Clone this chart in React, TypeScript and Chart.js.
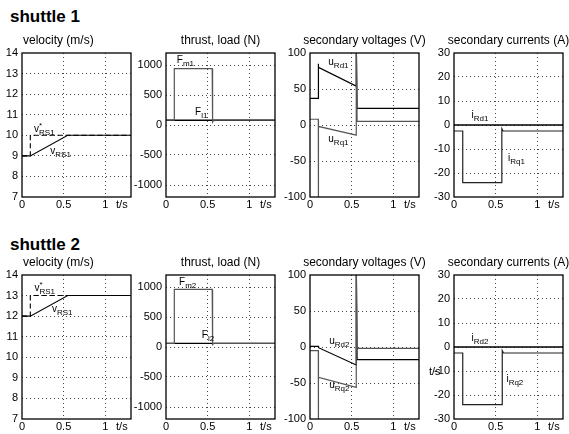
import React, { useEffect, useRef } from "react";
import { Chart, registerables } from "chart.js";
Chart.register(...registerables);

const FONT = "'Liberation Sans', Arial, Helvetica, sans-serif";

// ---------- axis data ----------
const T_MAX = 1.31;
const xTickValues = [0, 0.5, 1, 1.2];
const xGridValues = [0.5, 1];
const T_LABEL_POS = 1.2;

const velTicks1 = [7, 8, 9, 10, 11, 12, 13, 14];
const velTicks2 = [7, 8, 9, 10, 11, 12, 13, 14];
const thrustTicks = [-1000, -500, 0, 500, 1000];
const voltTicks = [-100, -50, 0, 50, 100];
const currTicks = [-30, -20, -10, 0, 10, 20, 30];

// ---------- shuttle 1 ----------
const vRef1T = [0, 0.1, 0.1, 1.31];
const vRef1V = [9, 9, 10, 10];
const vAct1T = [0, 0.1, 0.55, 1.31];
const vAct1V = [9, 9, 10, 10];

const fm1T = [0, 0.1, 0.1, 0.555, 0.56, 0.575, 1.31];
const fm1V = [80, 80, 940, 940, 50, 80, 80];
const fl1T = [0, 1.31];
const fl1V = [80, 80];

const uRd1T = [0, 0.1, 0.1, 0.101, 0.103, 0.555, 0.556, 0.566, 1.31];
const uRd1V = [37, 37, 85, 66, 80, 54, 120, 23, 23];
const uRq1T = [0, 0.1, 0.1, 0.103, 0.555, 0.556, 0.566, 1.31];
const uRq1V = [8, 8, -120, -2, -14, 120, 5, 5];

const iRd1T = [0, 1.31];
const iRd1V = [0, 0];
const iRq1T = [0, 0.105, 0.105, 0.575, 0.575, 0.59, 1.31];
const iRq1V = [-2.5, -2.5, -24, -24, -1.5, -2.5, -2.5];

// ---------- shuttle 2 ----------
const vRef2T = [0, 0.1, 0.1, 1.31];
const vRef2V = [12, 12, 13, 13];
const vAct2T = [0, 0.1, 0.55, 1.31];
const vAct2V = [12, 12, 13, 13];

const fm2T = [0, 0.1, 0.1, 0.555, 0.56, 0.575, 1.31];
const fm2V = [60, 60, 960, 960, 40, 60, 60];
const fl2T = [0, 1.31];
const fl2V = [60, 60];

const uRd2T = [0, 0.1, 0.103, 0.555, 0.556, 0.566, 1.31];
const uRd2V = [1, 1, -1, -25, 120, -17.5, -17.5];
const uRq2T = [0, 0.1, 0.1, 0.103, 0.555, 0.556, 0.566, 1.31];
const uRq2V = [-5, -5, -120, -42, -56, 120, -2, -2];

const iRd2T = [0, 1.31];
const iRd2V = [0, 0];
const iRq2T = [0, 0.105, 0.105, 0.58, 0.58, 0.595, 1.31];
const iRq2V = [-2.5, -2.5, -24, -24, -1.5, -2.5, -2.5];

// ---------- curve labels (data coords) ----------
type Label = { x: number; y: number; base: string; sub: string; sup?: string };
const velLabels1: Label[] = [
  { x: 0.145, y: 10.15, base: "v", sup: "*", sub: "RS1" },
  { x: 0.34, y: 9.08, base: "v", sub: "RS1" },
];
const velLabels2: Label[] = [
  { x: 0.15, y: 13.22, base: "v", sup: "*", sub: "RS1" },
  { x: 0.36, y: 12.22, base: "v", sub: "RS1" },
];
const thrustLabels1: Label[] = [
  { x: 0.13, y: 1030, base: "F", sub: "m1" },
  { x: 0.35, y: 160, base: "F", sub: "l1" },
];
const thrustLabels2: Label[] = [
  { x: 0.157, y: 1036, base: "F", sub: "m2" },
  { x: 0.43, y: 147, base: "F", sub: "l2" },
];
const voltLabels1: Label[] = [
  { x: 0.22, y: 84, base: "u", sub: "Rd1" },
  { x: 0.22, y: -23, base: "u", sub: "Rq1" },
];
const voltLabels2: Label[] = [
  { x: 0.23, y: 4.5, base: "u", sub: "Rd2" },
  { x: 0.23, y: -57, base: "u", sub: "Rq2" },
];
const currLabels1: Label[] = [
  { x: 0.21, y: 3, base: "i", sub: "Rd1" },
  { x: 0.65, y: -15, base: "i", sub: "Rq1" },
];
const currLabels2: Label[] = [
  { x: 0.21, y: 2.4, base: "i", sub: "Rd2" },
  { x: 0.63, y: -14.6, base: "i", sub: "Rq2" },
];

// ---------- layout ----------
const PLOT_W = 109;
const PLOT_H = 144;
const Y_AXIS_W = 36;
const TOP_PAD = 26;
const X_AXIS_H = 20;
const RIGHT_PAD = 14;

type Series = { t: number[]; v: number[]; color: string; dash?: number[]; width?: number };
type Panel = {
  plotLeft: number;
  plotTop: number;
  title: string;
  titleAlign: "left" | "center";
  yMin: number;
  yMax: number;
  yTicks: number[];
  series: Series[];
  labels: Label[];
};

const ROW1 = 53;
const ROW2 = 275;
const COLS = [22, 166, 310, 454];

const panels: Panel[] = [
  {
    plotLeft: COLS[0], plotTop: ROW1, title: "velocity (m/s)", titleAlign: "left",
    yMin: 7, yMax: 14, yTicks: velTicks1,
    series: [
      { t: vAct1T, v: vAct1V, color: "#000", width: 1.1 },
      { t: vRef1T, v: vRef1V, color: "#000", dash: [5, 3], width: 1.1 },
    ],
    labels: velLabels1,
  },
  {
    plotLeft: COLS[1], plotTop: ROW1, title: "thrust, load (N)", titleAlign: "center",
    yMin: -1200, yMax: 1200, yTicks: thrustTicks,
    series: [
      { t: fm1T, v: fm1V, color: "#555" },
      { t: fl1T, v: fl1V, color: "#000", width: 1.4 },
    ],
    labels: thrustLabels1,
  },
  {
    plotLeft: COLS[2], plotTop: ROW1, title: "secondary voltages (V)", titleAlign: "center",
    yMin: -100, yMax: 100, yTicks: voltTicks,
    series: [
      { t: uRq1T, v: uRq1V, color: "#555" },
      { t: uRd1T, v: uRd1V, color: "#000" },
    ],
    labels: voltLabels1,
  },
  {
    plotLeft: COLS[3], plotTop: ROW1, title: "secondary currents (A)", titleAlign: "center",
    yMin: -30, yMax: 30, yTicks: currTicks,
    series: [
      { t: iRd1T, v: iRd1V, color: "#000", width: 1.4 },
      { t: iRq1T, v: iRq1V, color: "#222" },
    ],
    labels: currLabels1,
  },
  {
    plotLeft: COLS[0], plotTop: ROW2, title: "velocity (m/s)", titleAlign: "left",
    yMin: 7, yMax: 14, yTicks: velTicks2,
    series: [
      { t: vAct2T, v: vAct2V, color: "#000", width: 1.1 },
      { t: vRef2T, v: vRef2V, color: "#000", dash: [5, 3], width: 1.1 },
    ],
    labels: velLabels2,
  },
  {
    plotLeft: COLS[1], plotTop: ROW2, title: "thrust, load (N)", titleAlign: "center",
    yMin: -1200, yMax: 1200, yTicks: thrustTicks,
    series: [
      { t: fm2T, v: fm2V, color: "#555" },
      { t: fl2T, v: fl2V, color: "#000", width: 1.4 },
    ],
    labels: thrustLabels2,
  },
  {
    plotLeft: COLS[2], plotTop: ROW2, title: "secondary voltages (V)", titleAlign: "center",
    yMin: -100, yMax: 100, yTicks: voltTicks,
    series: [
      { t: uRq2T, v: uRq2V, color: "#555" },
      { t: uRd2T, v: uRd2V, color: "#000" },
    ],
    labels: voltLabels2,
  },
  {
    plotLeft: COLS[3], plotTop: ROW2, title: "secondary currents (A)", titleAlign: "center",
    yMin: -30, yMax: 30, yTicks: currTicks,
    series: [
      { t: iRd2T, v: iRd2V, color: "#000", width: 1.4 },
      { t: iRq2T, v: iRq2V, color: "#222" },
    ],
    labels: currLabels2,
  },
];

const boxPlugin = {
  id: "plotBox",
  afterDatasetsDraw(chart: any) {
    const { ctx, chartArea: a } = chart;
    ctx.save();
    ctx.strokeStyle = "#000";
    ctx.lineWidth = 1.3;
    ctx.strokeRect(a.left, a.top, a.right - a.left, a.bottom - a.top);
    ctx.restore();
  },
};

function makeTextPlugin(panel: Panel) {
  return {
    id: "panelText",
    afterDraw(chart: any) {
      const { ctx, chartArea: a, scales } = chart;
      ctx.save();
      ctx.fillStyle = "#000";
      ctx.font = `12px ${FONT}`;
      ctx.textBaseline = "middle";
      if (panel.titleAlign === "left") {
        ctx.textAlign = "left";
        ctx.fillText(panel.title, a.left + 1, a.top - 12);
      } else {
        ctx.textAlign = "center";
        ctx.fillText(panel.title, (a.left + a.right) / 2, a.top - 12);
      }
      ctx.textAlign = "left";
      ctx.textBaseline = "alphabetic";
      for (const l of panel.labels) {
        const px = scales.x.getPixelForValue(l.x);
        const py = scales.y.getPixelForValue(l.y);
        ctx.font = `10px ${FONT}`;
        ctx.fillText(l.base, px, py);
        const w = ctx.measureText(l.base).width;
        ctx.font = `8px ${FONT}`;
        if (l.sup) ctx.fillText(l.sup, px + w, py - 4);
        ctx.fillText(l.sub, px + w, py + 3);
      }
      ctx.restore();
    },
  };
}

function PanelChart({ panel }: { panel: Panel }) {
  const ref = useRef<HTMLCanvasElement | null>(null);
  const width = Y_AXIS_W + PLOT_W + RIGHT_PAD;
  const height = TOP_PAD + PLOT_H + X_AXIS_H;
  useEffect(() => {
    if (!ref.current) return;
    const chart = new Chart(ref.current, {
      type: "line",
      data: {
        datasets: panel.series.map((s) => ({
          data: s.t.map((x, i) => ({ x, y: s.v[i] })),
          borderColor: s.color,
          borderWidth: s.width ?? 1.2,
          borderDash: s.dash ?? [],
          pointRadius: 0,
          fill: false,
          tension: 0,
        })),
      },
      options: {
        animation: false,
        responsive: false,
        devicePixelRatio: 1,
        layout: { padding: { top: TOP_PAD, right: RIGHT_PAD, left: 0, bottom: 0 } },
        plugins: { legend: { display: false }, tooltip: { enabled: false }, title: { display: false } },
        scales: {
          x: {
            type: "linear",
            min: 0,
            max: T_MAX,
            afterBuildTicks: (s: any) => {
              s.ticks = xTickValues.map((value) => ({ value }));
            },
            afterFit: (s: any) => {
              s.height = X_AXIS_H;
              s.paddingLeft = 0;
              s.paddingRight = 0;
            },
            ticks: {
              autoSkip: false,
              maxRotation: 0,
              padding: 1,
              color: "#000",
              font: { family: FONT, size: 11 },
              callback: (v: any) => (v === T_LABEL_POS ? "t/s" : String(v)),
            },
            grid: {
              drawTicks: false,
              lineWidth: 1,
              color: (c: any) =>
                c.tick && xGridValues.includes(c.tick.value) ? "#444" : "rgba(0,0,0,0)",
            },
            border: { display: false, dash: [1, 3] },
          },
          y: {
            type: "linear",
            min: panel.yMin,
            max: panel.yMax,
            afterBuildTicks: (s: any) => {
              s.ticks = panel.yTicks.map((value) => ({ value }));
            },
            afterFit: (s: any) => {
              s.width = Y_AXIS_W;
              s.paddingTop = 0;
              s.paddingBottom = 0;
            },
            ticks: {
              autoSkip: false,
              padding: 4,
              color: "#000",
              font: { family: FONT, size: 11 },
              callback: (v: any) => String(v),
            },
            grid: {
              drawTicks: false,
              lineWidth: 1,
              color: (c: any) =>
                c.tick && c.tick.value !== panel.yMin && c.tick.value !== panel.yMax
                  ? "#444"
                  : "rgba(0,0,0,0)",
            },
            border: { display: false, dash: [1, 3] },
          },
        },
      } as any,
      plugins: [boxPlugin, makeTextPlugin(panel)],
    });
    return () => chart.destroy();
  }, [panel]);
  return (
    <canvas
      ref={ref}
      width={width}
      height={height}
      style={{
        position: "absolute",
        left: panel.plotLeft - Y_AXIS_W,
        top: panel.plotTop - TOP_PAD,
        width,
        height,
      }}
    />
  );
}

export default function App() {
  const header: React.CSSProperties = {
    position: "absolute",
    left: 10,
    fontFamily: FONT,
    fontWeight: "bold",
    fontSize: 17,
    lineHeight: "17px",
    color: "#000",
    whiteSpace: "nowrap",
  };
  return (
    <div
      style={{
        position: "absolute",
        left: 0,
        top: 0,
        width: 569,
        height: 434,
        overflow: "hidden",
        background: "#fff",
      }}
    >
      <div style={{ ...header, top: 8 }}>shuttle 1</div>
      <div style={{ ...header, top: 236 }}>shuttle 2</div>
      {panels.map((p, i) => (
        <PanelChart key={i} panel={p} />
      ))}
      <div
        style={{
          position: "absolute",
          left: 429,
          top: 365,
          fontFamily: FONT,
          fontSize: 11,
          lineHeight: "13px",
          color: "#000",
        }}
      >
        t/s
      </div>
    </div>
  );
}
